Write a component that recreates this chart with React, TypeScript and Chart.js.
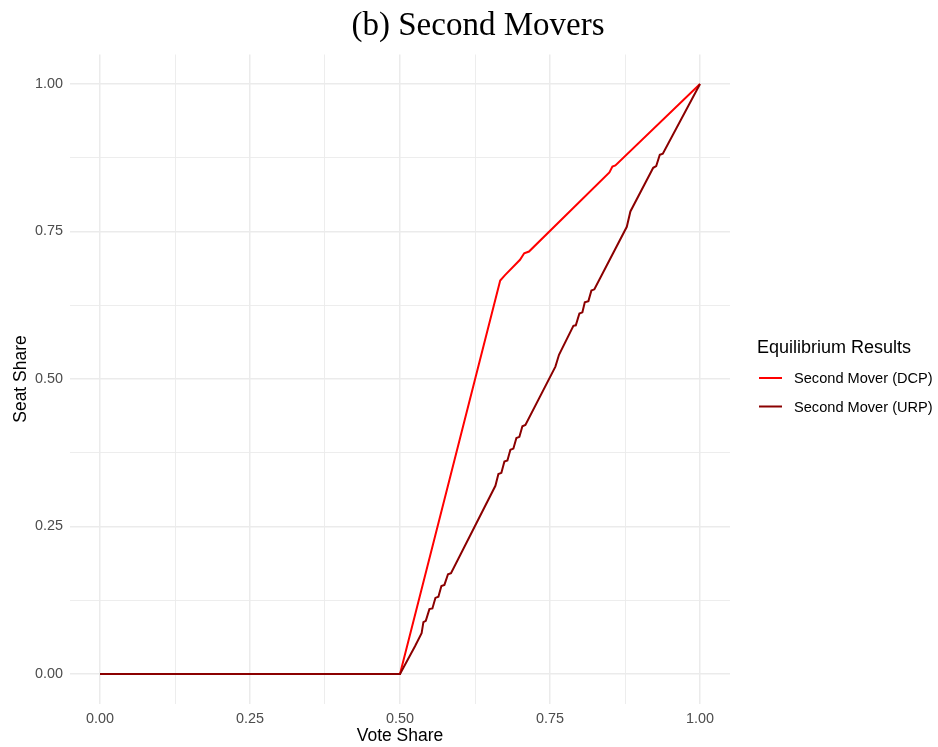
import React, { useEffect, useRef } from "react";
import { Chart, registerables } from "chart.js";

Chart.register(...registerables);

const chartTitle = "(b) Second Movers";
const xAxisTitle = "Vote Share";
const yAxisTitle = "Seat Share";
const legendTitle = "Equilibrium Results";

const tickValues = [0, 0.125, 0.25, 0.375, 0.5, 0.625, 0.75, 0.875, 1];
const majorTicks = [0, 0.25, 0.5, 0.75, 1];

const dcpLabel = "Second Mover (DCP)";
const dcpVote = [0, 0.5, 0.667, 0.675, 0.7, 0.707, 0.715, 0.849, 0.854, 0.859, 1];
const dcpSeat = [0, 0, 0.667, 0.676, 0.702, 0.713, 0.716, 0.85, 0.86, 0.862, 1];

const urpLabel = "Second Mover (URP)";
const urpVote = [
  0, 0.5, 0.525, 0.536, 0.539, 0.543, 0.549, 0.554, 0.559, 0.564, 0.569, 0.574,
  0.58, 0.585, 0.659, 0.664, 0.669, 0.674, 0.679, 0.684, 0.689, 0.694, 0.699,
  0.704, 0.709, 0.759, 0.765, 0.789, 0.793, 0.799, 0.804, 0.808, 0.814, 0.819,
  0.824, 0.878, 0.884, 0.922, 0.927, 0.933, 0.938, 1,
];
const urpSeat = [
  0, 0, 0.047, 0.069, 0.088, 0.09, 0.11, 0.111, 0.129, 0.131, 0.149, 0.151,
  0.169, 0.171, 0.319, 0.339, 0.341, 0.36, 0.362, 0.38, 0.382, 0.4, 0.402,
  0.42, 0.422, 0.521, 0.541, 0.59, 0.591, 0.611, 0.613, 0.63, 0.632, 0.65,
  0.652, 0.758, 0.784, 0.858, 0.861, 0.88, 0.882, 1,
];

const dcpColor = "#ff0000";
const urpColor = "#8b0000";
const gridColor = "#ebebeb";
const tickColor = "#4d4d4d";
const sans = "'Liberation Sans', Arial, sans-serif";

const isMajor = (v: number) => majorTicks.some((m) => Math.abs(m - v) < 1e-9);

const overlayPlugin = {
  id: "overlay",
  afterDraw(chart: any) {
    const ctx = chart.ctx;
    ctx.save();
    // title
    ctx.fillStyle = "#000";
    ctx.font = "33px 'Liberation Serif', 'Times New Roman', serif";
    ctx.textAlign = "center";
    ctx.textBaseline = "alphabetic";
    ctx.fillText(chartTitle, 478, 35);
    // legend
    ctx.textAlign = "left";
    ctx.font = `18px ${sans}`;
    ctx.fillText(legendTitle, 757, 353);
    const items = [
      { label: dcpLabel, color: dcpColor },
      { label: urpLabel, color: urpColor },
    ];
    items.forEach((it, i) => {
      const y = 378 + i * 28.5;
      ctx.strokeStyle = it.color;
      ctx.lineWidth = 2;
      ctx.beginPath();
      ctx.moveTo(759, y);
      ctx.lineTo(782, y);
      ctx.stroke();
      ctx.fillStyle = "#000";
      ctx.font = `14.6px ${sans}`;
      ctx.textBaseline = "middle";
      ctx.fillText(it.label, 794, y + 1);
    });
    ctx.restore();
  },
};

export default function App() {
  const ref = useRef<HTMLCanvasElement>(null);
  useEffect(() => {
    document.body.style.margin = "0";
    const canvas = ref.current!;
    const setTicks = (scale: any) => {
      scale.ticks = tickValues.map((v) => ({ value: v }));
    };
    const gridOpts = {
      color: gridColor,
      lineWidth: (c: any) => (c.tick && isMajor(c.tick.value) ? 1.5 : 0.9),
      drawTicks: false,
    };
    const chart = new Chart(canvas, {
      type: "line",
      data: {
        datasets: [
          {
            label: dcpLabel,
            data: dcpVote.map((x, i) => ({ x, y: dcpSeat[i] })),
            borderColor: dcpColor,
            backgroundColor: dcpColor,
            borderWidth: 2,
            pointRadius: 0,
            tension: 0,
            order: 1,
          },
          {
            label: urpLabel,
            data: urpVote.map((x, i) => ({ x, y: urpSeat[i] })),
            borderColor: urpColor,
            backgroundColor: urpColor,
            borderWidth: 2,
            pointRadius: 0,
            tension: 0,
            order: 0,
          },
        ],
      },
      options: {
        responsive: false,
        animation: false,
        devicePixelRatio: 1,
        layout: { padding: { top: 54.5, right: 208, left: 0, bottom: 0 } },
        plugins: {
          legend: { display: false },
          title: { display: false },
          tooltip: { enabled: false },
        },
        scales: {
          x: {
            type: "linear",
            min: -0.05,
            max: 1.05,
            afterBuildTicks: setTicks,
            afterFit: (s: any) => {
              s.height = 43.5;
            },
            grid: gridOpts,
            border: { display: false },
            ticks: {
              autoSkip: false,
              maxRotation: 0,
              padding: 7,
              color: tickColor,
              font: { family: sans, size: 14.4 },
              callback: (v: any) => (isMajor(Number(v)) ? Number(v).toFixed(2) : ""),
            },
            title: {
              display: true,
              text: xAxisTitle,
              color: "#000",
              font: { family: sans, size: 17.5 },
              padding: { top: 0, bottom: 0 },
            },
          },
          y: {
            type: "linear",
            min: -0.05,
            max: 1.05,
            afterBuildTicks: setTicks,
            afterFit: (s: any) => {
              s.width = 70;
            },
            grid: gridOpts,
            border: { display: false },
            ticks: {
              autoSkip: false,
              padding: 7,
              color: tickColor,
              font: { family: sans, size: 14.4 },
              callback: (v: any) => (isMajor(Number(v)) ? Number(v).toFixed(2) : ""),
            },
            title: {
              display: true,
              text: yAxisTitle,
              color: "#000",
              font: { family: sans, size: 17.5 },
              padding: { top: 11, bottom: 0 },
            },
          },
        },
      },
      plugins: [overlayPlugin],
    } as any);
    return () => chart.destroy();
  }, []);
  return (
    <div style={{ width: 938, height: 747, background: "#fff" }}>
      <canvas ref={ref} width={938} height={747} style={{ display: "block" }} />
    </div>
  );
}
